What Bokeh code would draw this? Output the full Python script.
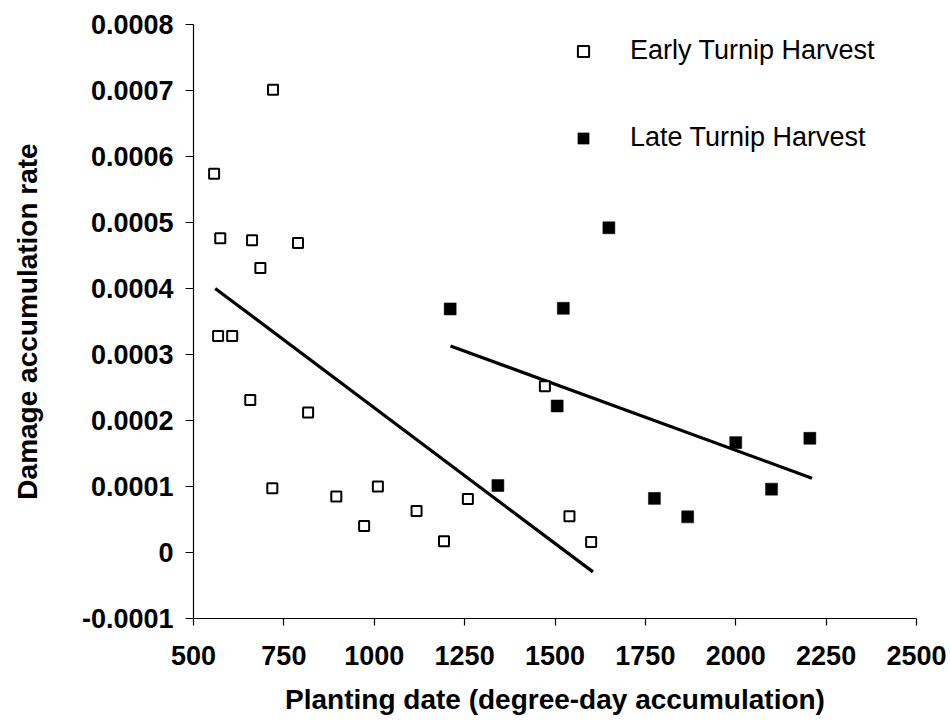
from bokeh.plotting import figure
from bokeh.models import Range1d, FixedTicker, Legend, LegendItem
from bokeh.embed import file_html
from bokeh.resources import INLINE

# ---- data ----
early_x = [557, 574, 662, 789, 685, 720, 568, 607, 657, 817, 718, 895, 972, 1010,
           1117, 1193, 1259, 1472, 1540, 1600]
early_y = [0.000574, 0.000476, 0.000473, 0.000469, 0.000431, 0.000701, 0.000328,
           0.000328, 0.000231, 0.000212, 0.0000975, 0.000085, 0.00004, 0.0001,
           0.000063, 0.000017, 0.000081, 0.000252, 0.000055, 0.000016]

late_x = [1210, 1523, 1649, 1506, 1342, 2000, 2205, 2099, 1775, 1867]
late_y = [0.000369, 0.000370, 0.000492, 0.000222, 0.0001015, 0.0001665,
          0.000173, 0.000096, 0.000082, 0.000054]

early_fit_x = [560, 1605]
early_fit_y = [0.000400, -0.0000294]
late_fit_x = [1211, 2211]
late_fit_y = [0.000313, 0.0001126]

x_ticks = [500, 750, 1000, 1250, 1500, 1750, 2000, 2250, 2500]
y_ticks = [-0.0001, 0.0, 0.0001, 0.0002, 0.0003, 0.0004, 0.0005, 0.0006, 0.0007, 0.0008]
y_tick_labels = ["-0.0001", "0", "0.0001", "0.0002", "0.0003", "0.0004",
                 "0.0005", "0.0006", "0.0007", "0.0008"]

FONT = "Liberation Sans"

p = figure(width=951, height=727, output_backend="svg", toolbar_location=None,
           x_range=Range1d(500, 2500), y_range=Range1d(-0.0001, 0.0008),
           min_border_left=193, min_border_right=35, min_border_top=24,
           min_border_bottom=109)
p.outline_line_color = None
p.xgrid.visible = False
p.ygrid.visible = False
p.background_fill_color = "white"
p.border_fill_color = "white"

r_early_fit = p.line(early_fit_x, early_fit_y, line_color="black", line_width=3.2)
r_late_fit = p.line(late_fit_x, late_fit_y, line_color="black", line_width=3.2)

r_early = p.scatter(early_x, early_y, marker="square", size=10, fill_color="white",
                    line_color="black", line_width=2)
r_late = p.scatter(late_x, late_y, marker="square", size=12, fill_color="black",
                   line_color="black", line_width=0.5)

# axes
xa = p.xaxis[0]
xa.ticker = FixedTicker(ticks=x_ticks)
xa.minor_tick_line_color = None
xa.major_tick_out = 7
xa.major_tick_in = 0
xa.axis_line_color = "black"
xa.axis_line_width = 1.2
xa.major_tick_line_width = 1.2
xa.major_label_text_font = FONT
xa.major_label_text_font_style = "bold"
xa.major_label_text_font_size = "27px"
xa.major_label_text_color = "black"
xa.major_label_standoff = 20
xa.axis_label = "Planting date (degree-day accumulation)"
xa.axis_label_text_font = FONT
xa.axis_label_text_font_style = "bold"
xa.axis_label_text_font_size = "28px"
xa.axis_label_text_color = "black"
xa.axis_label_standoff = 16

ya = p.yaxis[0]
ya.ticker = FixedTicker(ticks=y_ticks)
ya.major_label_overrides = {t: s for t, s in zip(y_ticks, y_tick_labels)}
ya.minor_tick_line_color = None
ya.major_tick_out = 8
ya.major_tick_in = 0
ya.axis_line_color = "black"
ya.axis_line_width = 1.2
ya.major_tick_line_width = 1.2
ya.major_label_text_font = FONT
ya.major_label_text_font_style = "bold"
ya.major_label_text_font_size = "27px"
ya.major_label_text_color = "black"
ya.major_label_standoff = 12
ya.axis_label = "Damage accumulation rate"
ya.axis_label_text_font = FONT
ya.axis_label_text_font_style = "bold"
ya.axis_label_text_font_size = "28px"
ya.axis_label_text_color = "black"
ya.axis_label_standoff = 36

legend = Legend(items=[LegendItem(label="Early Turnip Harvest", renderers=[r_early]),
                       LegendItem(label="Late Turnip Harvest", renderers=[r_late])],
                location=(376, 465))
legend.border_line_color = None
legend.background_fill_alpha = 0
legend.padding = 0
legend.margin = 0
legend.glyph_width = 28
legend.glyph_height = 30
legend.label_height = 30
legend.spacing = 56
legend.label_standoff = 33
legend.label_text_font = FONT
legend.label_text_font_size = "27px"
legend.label_text_color = "black"
p.add_layout(legend, "center")

open("out.html", "w").write(file_html(p, INLINE))
